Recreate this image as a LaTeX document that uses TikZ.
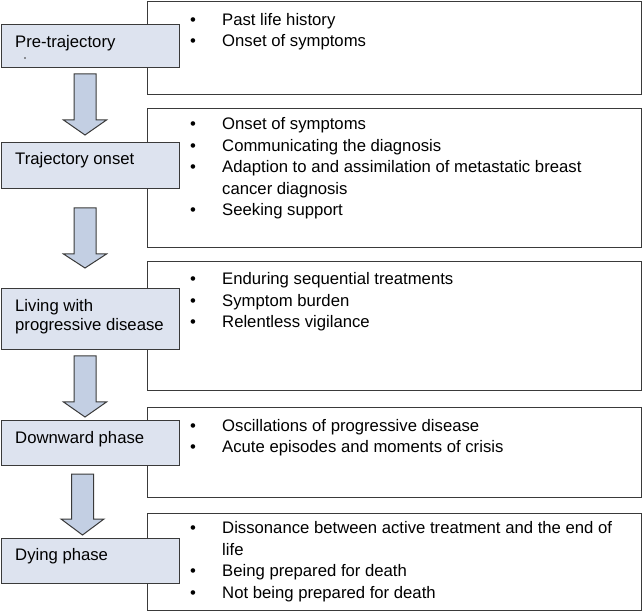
\documentclass[tikz,border=0pt]{standalone}
\usepackage{fontspec}
\setmainfont{Liberation Sans}
\definecolor{boxfill}{HTML}{DDE3EF}
\definecolor{arrowfill}{HTML}{C3CFE3}
\definecolor{edge}{HTML}{3A3A3A}
\newcommand{\blockarrow}[4]{% center x, top, head base, tip
  \filldraw[arrowshape] (#1-11,#2) -- (#1+11,#2) -- (#1+11,#3) -- (#1+21.5,#3)
    -- (#1,#4) -- (#1-21.5,#3) -- (#1-11,#3) -- cycle;}
\begin{document}
\begin{tikzpicture}[x=1pt,y=-1pt,
  rightbox/.style={draw=edge,line width=1.3pt,fill=white,anchor=north west,inner sep=0pt},
  leftbox/.style={draw=edge,line width=1.1pt,fill=boxfill,anchor=north west,inner sep=0pt},
  arrowshape/.style={draw=edge,line width=1pt,fill=arrowfill,line join=miter},
  lbl/.style={anchor=base west,inner sep=0pt,font=\fontsize{16.7}{19}\selectfont},
  items/.style={anchor=base west,inner sep=0pt,font=\fontsize{16.7}{21.5}\selectfont}]
\useasboundingbox (0,0) rectangle (643,612);
% right boxes
\node[rightbox,minimum width=494pt,minimum height=93pt]  (R1) at (147,1) {};
\node[rightbox,minimum width=494pt,minimum height=139pt] (R2) at (147,108) {};
\node[rightbox,minimum width=494pt,minimum height=129pt] (R3) at (147,261) {};
\node[rightbox,minimum width=494pt,minimum height=90pt]  (R4) at (147,407) {};
\node[rightbox,minimum width=494pt,minimum height=97pt]  (R5) at (147,513) {};
% left boxes
\node[leftbox,minimum width=178pt,minimum height=43pt] (L1) at (1,24) {};
\node[leftbox,minimum width=178pt,minimum height=46pt] (L2) at (1,142) {};
\node[leftbox,minimum width=178pt,minimum height=61pt] (L3) at (1,288) {};
\node[leftbox,minimum width=178pt,minimum height=45pt] (L4) at (1,420) {};
\node[leftbox,minimum width=178pt,minimum height=45pt] (L5) at (1,538) {};
% left labels
\node[lbl] (t1) at (15,48) {Pre-trajectory};
\fill[black!80] (25,58) circle (0.9);
\node[lbl] (t2) at (15,165) {Trajectory onset};
\node[lbl] (t3) at (15,311.5) {\begin{tabular}[t]{@{}l@{}}Living with\\progressive disease\end{tabular}};
\node[lbl] (t4) at (15,443) {Downward phase};
\node[lbl] (t5) at (15,560.5) {Dying phase};
% arrows
\blockarrow{85}{74}{120}{135}
\blockarrow{85}{208}{254}{268}
\blockarrow{85}{356}{402}{417}
\blockarrow{82.5}{474}{519}{535}
% bullet lists
\node[items] (b1) at (190,25.5) {\begin{tabular}[t]{@{}p{32pt}@{}l@{}}
•&Past life history\\
•&Onset of symptoms\end{tabular}};
\node[items] (b2) at (190,130) {\begin{tabular}[t]{@{}p{32pt}@{}l@{}}
•&Onset of symptoms\\
•&Communicating the diagnosis\\
•&Adaption to and assimilation of metastatic breast\\
&cancer diagnosis\\
•&Seeking support\end{tabular}};
\node[items] (b3) at (190,285) {\begin{tabular}[t]{@{}p{32pt}@{}l@{}}
•&Enduring sequential treatments\\
•&Symptom burden\\
•&Relentless vigilance\end{tabular}};
\node[items] (b4) at (190,431.5) {\begin{tabular}[t]{@{}p{32pt}@{}l@{}}
•&Oscillations of progressive disease\\
•&Acute episodes and moments of crisis\end{tabular}};
\node[items] (b5) at (190,533.5) {\begin{tabular}[t]{@{}p{32pt}@{}l@{}}
•&Dissonance between active treatment and the end of\\
&life\\
•&Being prepared for death\\
•&Not being prepared for death\end{tabular}};
\end{tikzpicture}
\end{document}
